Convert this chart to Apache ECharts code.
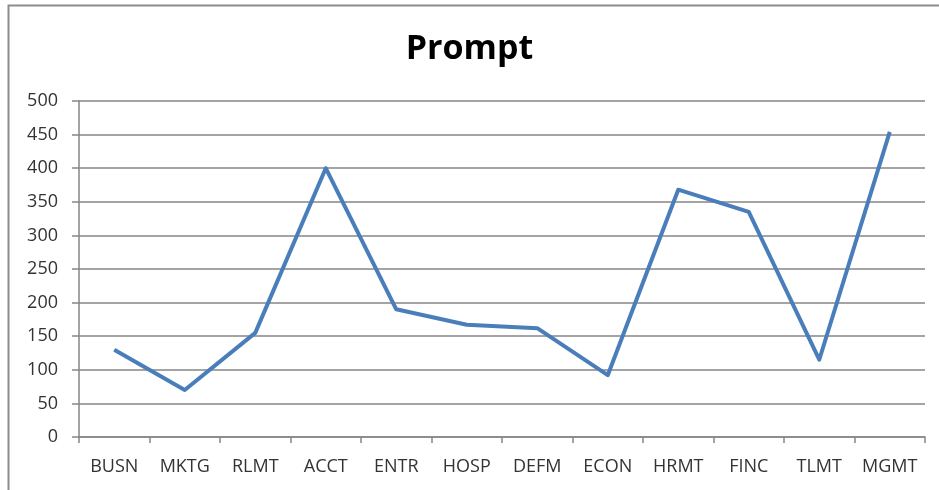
<!DOCTYPE html>
<html>
<head>
<meta charset="utf-8">
<script src="https://cdn.jsdelivr.net/npm/echarts@6/dist/echarts.min.js"></script>
<style>
  html, body { margin: 0; padding: 0; background: #fff; }
  #chart { width: 939px; height: 490px; }
</style>
</head>
<body>
<div id="chart"></div>
<script>
// Program codes along the category axis
const programs = ['BUSN', 'MKTG', 'RLMT', 'ACCT', 'ENTR', 'HOSP', 'DEFM', 'ECON', 'HRMT', 'FINC', 'TLMT', 'MGMT'];
// Count per program
const promptCounts = [130, 70, 155, 400, 190, 167, 162, 92, 368, 335, 115, 454];

const chart = echarts.init(document.getElementById('chart'), null, { renderer: 'canvas' });
const labelFont = 'Open Sans, Noto Sans, sans-serif';

chart.setOption({
  animation: false,
  backgroundColor: '#ffffff',
  title: {
    text: 'Prompt',
    left: 'center',
    top: 27,
    textStyle: { fontFamily: labelFont, fontSize: 34, fontWeight: 'bold', color: '#000' }
  },
  graphic: [{
    type: 'rect',
    shape: { x: 8.5, y: 5.5, width: 1000, height: 600 },
    style: { fill: 'none', stroke: '#8c8c8c', lineWidth: 2 },
    silent: true
  }],
  grid: { left: 79, right: 14, top: 101, bottom: 53, containLabel: false },
  xAxis: {
    type: 'category',
    data: programs,
    boundaryGap: true,
    axisLine: { lineStyle: { color: '#868686', width: 1.5 } },
    axisTick: { show: true, length: 6, lineStyle: { color: '#868686', width: 1.5 } },
    axisLabel: { fontFamily: labelFont, fontSize: 18, color: '#333333', margin: 21, interval: 0 }
  },
  yAxis: {
    type: 'value',
    min: 0,
    max: 500,
    interval: 50,
    axisLine: { show: true, lineStyle: { color: '#868686', width: 1.5 } },
    axisTick: { show: true, length: 7, lineStyle: { color: '#868686', width: 1.5 } },
    splitLine: { lineStyle: { color: '#868686', width: 1.5 } },
    axisLabel: { fontFamily: labelFont, fontSize: 18, color: '#333333', margin: 21 }
  },
  series: [{
    type: 'line',
    data: promptCounts,
    symbol: 'none',
    lineStyle: { color: '#4a7ebb', width: 4, join: 'round' }
  }]
});
</script>
</body>
</html>
